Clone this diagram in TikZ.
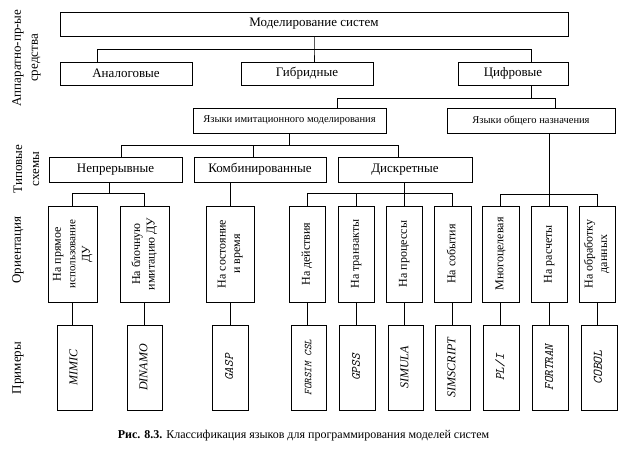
\documentclass[tikz,border=0pt]{standalone}
\usepackage{fontspec}
\setmainfont{Liberation Serif}
\newcommand{\rtext}[1]{\rotatebox{90}{\begin{tabular}{@{}c@{}}#1\end{tabular}}}
\begin{document}
\begin{tikzpicture}[x=1pt,y=-1pt,line width=0.9pt,
  box/.style={draw,inner sep=0pt,font=\fontsize{13}{15}\selectfont},
  sbox/.style={box,font=\fontsize{10.5}{12}\selectfont},
  obox/.style={draw,inner sep=0pt,minimum height=96,font=\fontsize{12}{14.5}\selectfont},
  ebox/.style={draw,inner sep=0pt,minimum height=85,font=\fontsize{12}{14}\selectfont},
  lab/.style={rotate=90,align=center,inner sep=0pt,font=\fontsize{13}{17}\selectfont}]
\useasboundingbox (0,0) rectangle (625,451);
% level 1-2
\node[box,minimum width=508,minimum height=24] (M) at (314,24) {Моделирование систем};
\node[box,minimum width=132,minimum height=23] (A) at (126,73.5) {Аналоговые};
\node[box,minimum width=132,minimum height=23] (G) at (307,73.5) {Гибридные};
\node[box,minimum width=110,minimum height=23] (C) at (513,73.5) {Цифровые};
% level 3
\node[sbox,minimum width=193,minimum height=25] (YI) at (289.5,120.5) {Языки имитационного моделирования};
\node[sbox,minimum width=168,minimum height=25] (YO) at (531,120.5) {Языки общего назначения};
% level 4
\node[box,minimum width=133,minimum height=25] (N) at (115.5,169.5) {Непрерывные};
\node[box,minimum width=132,minimum height=25] (K) at (260,169.5) {Комбинированные};
\node[box,minimum width=134,minimum height=25] (D) at (405,169.5) {Дискретные};
% level 5
\node[obox,minimum width=49] (o1) at (72.5,254) {\rtext{На прямое\\{\fontsize{11}{14.5}\selectfont использование}\\ДУ}};
\node[obox,minimum width=49] (o2) at (144.5,254) {\rtext{На блочную\\имитацию ДУ}};
\node[obox,minimum width=48] (o3) at (230,254) {\rtext{На состояние\\и время}};
\node[obox,minimum width=36] (o4) at (307,254) {\rtext{На действия}};
\node[obox,minimum width=36] (o5) at (356,254) {\rtext{На транзакты}};
\node[obox,minimum width=36] (o6) at (404,254) {\rtext{На процессы}};
\node[obox,minimum width=37] (o7) at (452.5,254) {\rtext{На события}};
\node[obox,minimum width=37] (o8) at (500.5,254) {\rtext{Многоцелевая}};
\node[obox,minimum width=36] (o9) at (549,254) {\rtext{На расчеты}};
\node[obox,minimum width=36] (o10) at (597,254) {\rtext{На обработку\\данных}};
% level 6
\node[ebox,minimum width=35] (e1) at (74.5,367.5) {\rtext{\itshape MIMIC}};
\node[ebox,minimum width=35] (e2) at (144.5,367.5) {\rtext{\itshape DINAMO}};
\node[ebox,minimum width=36] (e3) at (230,367.5) {\rtext{\ttfamily\itshape\fontsize{12.5}{14}\selectfont GASP}};
\node[ebox,minimum width=35] (e4) at (308.5,367.5) {\rtext{\ttfamily\itshape\fontsize{10.5}{12}\selectfont FORSIM CSL}};
\node[ebox,minimum width=36] (e5) at (357,367.5) {\rtext{\ttfamily\itshape\fontsize{12.5}{14}\selectfont GPSS}};
\node[ebox,minimum width=35] (e6) at (405.5,367.5) {\rtext{\itshape SIMULA}};
\node[ebox,minimum width=35] (e7) at (452.5,367.5) {\rtext{\itshape SIMSCRIPT}};
\node[ebox,minimum width=36] (e8) at (501,367.5) {\rtext{\ttfamily\itshape\fontsize{12.5}{14}\selectfont PL/I}};
\node[ebox,minimum width=36] (e9) at (550,367.5) {\rtext{\ttfamily\itshape\fontsize{12.5}{14}\selectfont FORTRAN}};
\node[ebox,minimum width=36] (e10) at (599,367.5) {\rtext{\ttfamily\itshape\fontsize{13}{14}\selectfont COBOL}};
% side labels
\node[lab] (L1) at (26.5,58) {Аппаратно-пр-ые\\средства};
\node[lab] (L2) at (26.5,169) {Типовые\\схемы};
\node[lab] (L3) at (18,250) {Ориентация};
\node[lab] (L4) at (18,368) {Примеры};
% caption
\node[inner sep=0pt,font=\fontsize{12}{14}\selectfont] (cap) at (303.5,436) {\textbf{Рис. 8.3.} Классификация языков для программирования моделей систем};
% junction coordinates
\coordinate (jM) at (314,49);
\coordinate (dA) at (97,49);
\coordinate (dC) at (531,49);
\coordinate (jC) at (531,98);
\coordinate (dYI) at (337,98);
\coordinate (dYO) at (555,98);
\coordinate (jYI) at (289,145);
\coordinate (dN) at (121,145);
\coordinate (dK) at (253,145);
\coordinate (dD) at (398,145);
\coordinate (jN) at (109,193);
\coordinate (jD) at (404,193);
\coordinate (jYO) at (548,194);
% connectors
\draw (M.south -| jM) -- (jM) -- (G.north -| jM);
\draw (A.north -| dA) |- (dC) -- (C.north -| dC);
\draw (C.south -| jC) -- (jC);
\draw (YI.north -| dYI) |- (dYO) -- (YO.north -| dYO);
\draw (YI.south -| jYI) -- (jYI);
\draw (N.north -| dN) |- (dD) -- (D.north -| dD);
\draw (dK) -- (K.north -| dK);
\draw (N.south -| jN) -- (jN);
\draw (o1.north) |- (o2.north |- jN) -- (o2.north);
\draw (K.south -| o3.north) -- (o3.north);
\draw (D.south -| o6.north) -- (o6.north);
\draw (o4.north) |- (o7.north |- jD) -- (o7.north);
\draw (o5.north) -- (o5.north |- jD);
\draw (YO.south -| o9.north) -- (o9.north);
\draw (o8.north) |- (o10.north |- jYO) -- (o10.north);
\foreach \i in {1,...,10} {\draw (o\i.south) -- (o\i.south |- e\i.north);}
\end{tikzpicture}
\end{document}
